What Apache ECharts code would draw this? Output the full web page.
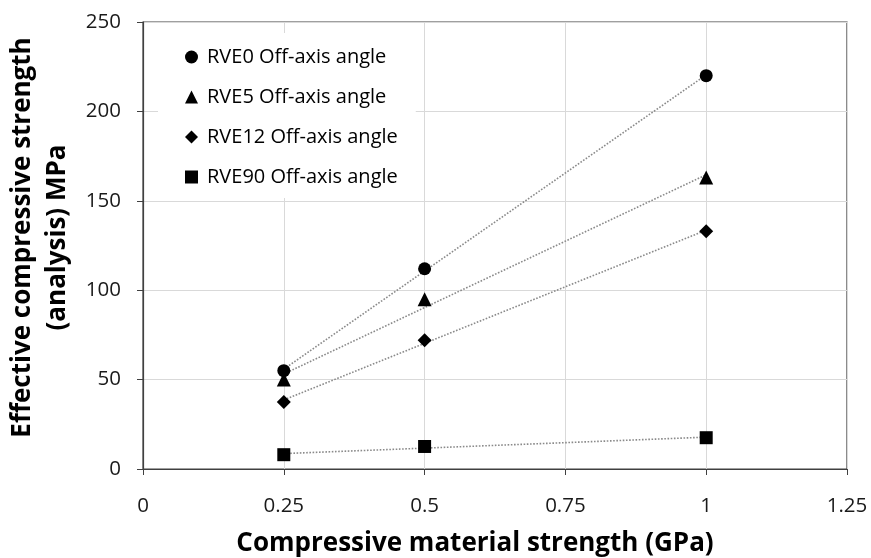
<!DOCTYPE html>
<html>
<head>
<meta charset="utf-8">
<script src="https://cdn.jsdelivr.net/npm/echarts@6/dist/echarts.min.js"></script>
<style>
  html, body { margin: 0; padding: 0; background: #ffffff; }
  #chart { width: 871px; height: 558px; }
</style>
</head>
<body>
<div id="chart"></div>
<script>
// Compressive material strength (GPa)
const strengthGPa = [0.25, 0.5, 1];

// Effective compressive strength (analysis), MPa, per off-axis angle
const rve0 = [55, 112, 220];
const rve5 = [50, 95, 163];
const rve12 = [37.5, 72, 133];
const rve90 = [8, 12.6, 17.5];

const seriesNames = [
  'RVE0 Off-axis angle',
  'RVE5 Off-axis angle',
  'RVE12 Off-axis angle',
  'RVE90 Off-axis angle'
];
const seriesSymbols = ['circle', 'triangle', 'diamond', 'rect'];
const seriesSizes = [13, 14, 14, 13];
const seriesValues = [rve0, rve5, rve12, rve90];

const xTicks = { min: 0, max: 1.25, interval: 0.25 };
const yTicks = { min: 0, max: 250, interval: 50 };

// Least-squares linear trend over the measured range
function linearTrend(xs, ys) {
  const n = xs.length;
  const mx = xs.reduce((a, b) => a + b, 0) / n;
  const my = ys.reduce((a, b) => a + b, 0) / n;
  let sxy = 0, sxx = 0;
  for (let i = 0; i < n; i++) {
    sxy += (xs[i] - mx) * (ys[i] - my);
    sxx += (xs[i] - mx) * (xs[i] - mx);
  }
  const slope = sxy / sxx;
  const icpt = my - slope * mx;
  const x0 = Math.min(...xs), x1 = Math.max(...xs);
  return [[x0, icpt + slope * x0], [x1, icpt + slope * x1]];
}

const FONT = 'Open Sans';
const axisColor = '#404040';

const series = [];
seriesValues.forEach((vals) => {
  series.push({
    type: 'line',
    data: linearTrend(strengthGPa, vals),
    symbol: 'none',
    silent: true,
    z: 2,
    lineStyle: { color: '#8a8a8a', width: 1.6, type: [1.6, 1.6] }
  });
});
seriesValues.forEach((vals, i) => {
  series.push({
    name: seriesNames[i],
    type: 'scatter',
    symbol: seriesSymbols[i],
    symbolSize: seriesSizes[i],
    z: 5,
    itemStyle: { color: '#000000', opacity: 1 },
    data: strengthGPa.map((x, k) => [x, vals[k]])
  });
});

const chart = echarts.init(document.getElementById('chart'), null, { renderer: 'canvas' });
chart.setOption({
  backgroundColor: '#ffffff',
  animation: false,
  grid: {
    left: 143, right: 24, top: 22, bottom: 89,
    outerBoundsMode: 'none',
    containLabel: false,
    show: true, borderColor: axisColor, borderWidth: 1.2, backgroundColor: 'transparent'
  },
  legend: {
    orient: 'vertical',
    left: 158,
    top: 33,
    padding: [13, 18, 10, 27],
    backgroundColor: '#ffffff',
    itemWidth: 13,
    itemHeight: 13,
    itemGap: 18,
    data: seriesNames.map((n, i) => ({ name: n, icon: seriesSymbols[i] })),
    textStyle: { fontFamily: FONT, fontSize: 20, color: '#000000', lineHeight: 22, padding: [0, 0, 0, 4] }
  },
  xAxis: {
    type: 'value',
    min: xTicks.min, max: xTicks.max, interval: xTicks.interval,
    name: 'Compressive material strength (GPa)',
    nameLocation: 'middle',
    nameGap: 62,
    nameTextStyle: { fontFamily: FONT, fontSize: 26, fontWeight: 'bold', color: '#000000', padding: [0, 40, 0, 0] },
    axisLine: { show: true, lineStyle: { color: axisColor, width: 1.2 } },
    axisTick: { show: true, inside: false, length: 6, lineStyle: { color: axisColor } },
    axisLabel: { fontFamily: FONT, fontSize: 20.5, color: '#1a1a1a', margin: 27 },
    splitLine: { show: true, lineStyle: { color: '#d9d9d9', width: 1 } }
  },
  yAxis: {
    type: 'value',
    min: yTicks.min, max: yTicks.max, interval: yTicks.interval,
    name: 'Effective compressive strength\n(analysis) MPa',
    nameLocation: 'middle',
    nameRotate: 90,
    nameGap: 66,
    nameTextStyle: { fontFamily: FONT, fontSize: 26, fontWeight: 'bold', color: '#000000', lineHeight: 35, align: 'center', padding: [0, 0, 0, 16] },
    axisLine: { show: true, lineStyle: { color: axisColor, width: 1.2 } },
    axisTick: { show: true, inside: false, length: 6, lineStyle: { color: axisColor } },
    axisLabel: { fontFamily: FONT, fontSize: 20.5, color: '#1a1a1a', margin: 22 },
    splitLine: { show: true, lineStyle: { color: '#d9d9d9', width: 1 } }
  },
  series: series
});
</script>
</body>
</html>
